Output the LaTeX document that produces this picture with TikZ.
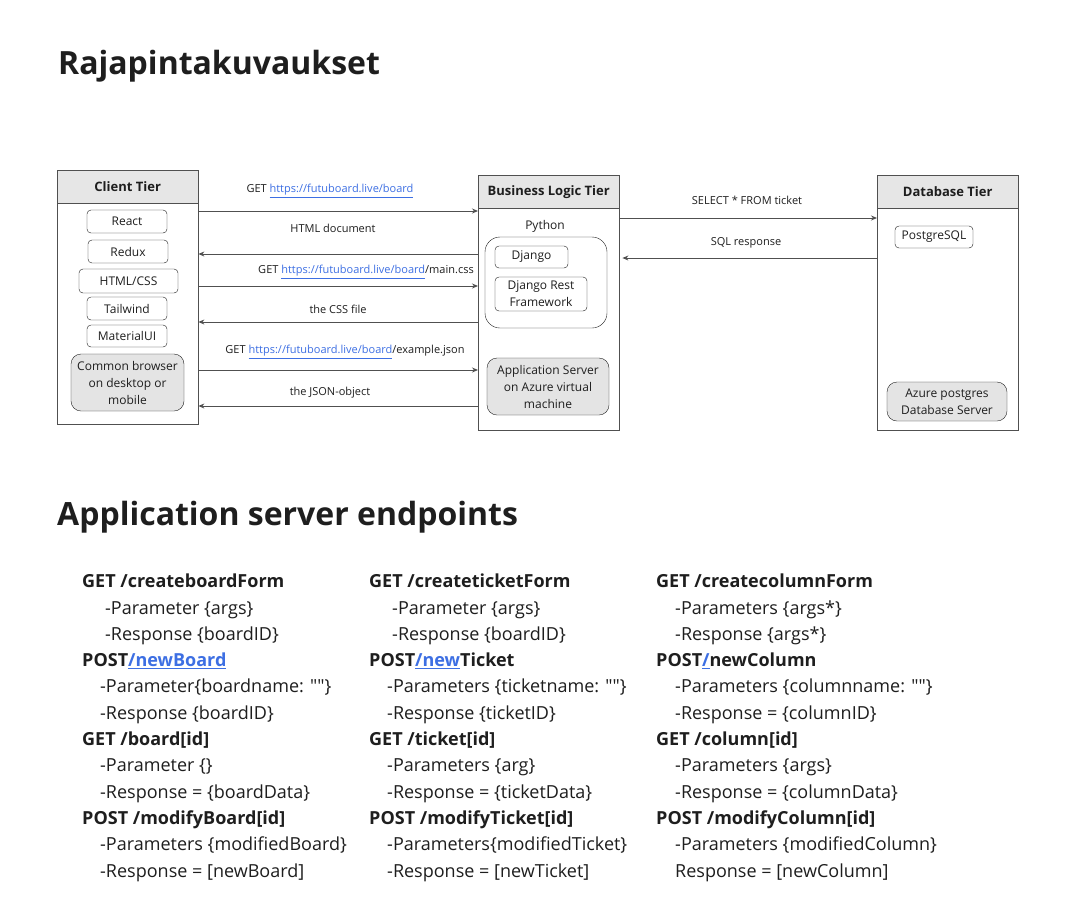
\documentclass[tikz,border=0pt]{standalone}
\usepackage{fontspec}
\setmainfont{Open Sans}[Ligatures=TeXOff]
\usepackage{tikz}
\usetikzlibrary{positioning}
\usetikzlibrary{arrows.meta}
\definecolor{ink}{HTML}{1E1E1E}
\definecolor{edge}{HTML}{505050}
\definecolor{hdrgray}{HTML}{E6E6E6}
\definecolor{boxgray}{HTML}{E4E4E4}
\definecolor{linkblue}{HTML}{3D6FE3}
\newcommand{\lnk}[1]{\textcolor{linkblue}{\underline{#1}}}
\tikzset{% tiers, boxes and calls
        tier/.style={draw=edge, fill=white, minimum width=141pt, inner sep=0pt, anchor=north west},
        tierhead/.style={draw=edge, fill=hdrgray, minimum width=141pt, minimum height=33pt, inner sep=0pt, anchor=north, font=\fontsize{13}{15}\selectfont\bfseries, text=ink},
        tech/.style={draw=ink, fill=white, rounded corners=4pt, inner sep=0pt, align=center, font=\fontsize{12}{17}\selectfont, text=ink},
        host/.style={draw=ink, fill=boxgray, rounded corners=10pt, inner sep=0pt, align=center, font=\fontsize{12}{17}\selectfont, text=ink},
        msg/.style={inner sep=0pt, font=\fontsize{11}{13}\selectfont, text=ink},
        call/.style={draw=edge, line width=0.9pt, -{Stealth[length=6pt,width=5pt]}},
        heading/.style={anchor=base west, inner sep=0pt, font=\fontsize{32}{38}\selectfont\bfseries, text=ink},
        ep/.style={anchor=base west, inner sep=0pt, align=left, font=\fontsize{18}{26.3}\selectfont, text=ink}
        }

\begin{document}
\begin{tikzpicture}[x=1pt,y=-1pt]
\useasboundingbox[fill=white] (0,0) rectangle (1073,922);

\node[heading] (title) at (58,74) {Rajapintakuvaukset};

% client tier
\node[tier, minimum height=254pt] (client) at (57,170) {};
\node[tierhead] (clienthd) at (client.north) {Client Tier};
\node[tech, minimum width=80pt, minimum height=23pt] (react) at (127,221.5) {React};
\node[tech, minimum width=80pt, minimum height=23pt] (redux) at (128,251.5) {Redux};
\node[tech, minimum width=99pt, minimum height=24pt] (htmlcss) at (128.5,281) {HTML/CSS};
\node[tech, minimum width=80pt, minimum height=23pt] (tailwind) at (127,308.5) {Tailwind};
\node[tech, minimum width=80pt, minimum height=22pt] (mui) at (127,336) {MaterialUI};
\node[host, minimum width=113pt, minimum height=57pt] (browser) at (127.5,382.5) {Common browser\\on desktop or\\mobile};

% business logic tier
\node[tier, minimum height=255pt] (blt) at (478,175) {};
\node[tierhead] (blthd) at (blt.north) {Business Logic Tier};
\node[msg, font=\fontsize{12}{17}\selectfont] (python) at (545,226) {Python};
\node[draw=ink, rounded corners=15pt, minimum width=122pt, minimum height=91pt] (pybox) at (546,282.5) {};
\node[tech, minimum width=73pt, minimum height=22pt] (django) at (531.5,257) {Django};
\node[tech, minimum width=92pt, minimum height=34pt] (drf) at (541,294) {Django Rest\\Framework};
\node[host, minimum width=122pt, minimum height=57pt] (appsrv) at (548,386.5) {Application Server\\on Azure virtual\\machine};

% database tier
\node[tier, minimum height=255pt] (db) at (877,175) {};
\node[tierhead] (dbhd) at (db.north) {Database Tier};
\node[tech, minimum width=78pt, minimum height=22pt] (pg) at (934,237) {PostgreSQL};
\node[host, minimum width=120pt, minimum height=39pt] (azure) at (947,401.5) {Azure postgres\\Database Server};

% calls between the tiers
\draw[call] (client.east |- 0,211) -- (blt.west |- 0,211);
\node[msg] (req1) at (330,191) {GET \lnk{https://futuboard.live/board}};
\draw[call] (blt.west |- 0,254) -- (client.east |- 0,254);
\node[msg] (res1) at (333,228) {HTML document};
\draw[call] (client.east |- 0,286) -- (blt.west |- 0,286);
\node[msg] (req2) at (366,272) {GET \lnk{https://futuboard.live/board}/main.css};
\draw[call] (blt.west |- 0,322) -- (client.east |- 0,322);
\node[msg] (res2) at (338,309) {the CSS file};
\draw[call] (client.east |- 0,370) -- (blt.west |- 0,370);
\node[msg] (req3) at (345,352) {GET \lnk{https://futuboard.live/board}/example.json};
\draw[call] (blt.west |- 0,406) -- (client.east |- 0,406);
\node[msg] (res3) at (330,393) {the JSON-object};

\draw[call] (blt.east |- 0,218) -- (db.west |- 0,218);
\node[msg] (sql1) at (747,200) {SELECT * FROM ticket};
\draw[call, shorten >=3pt] (db.west |- 0,258) -- (blt.east |- 0,258);
\node[msg] (sql2) at (746,243) {SQL response};

\node[heading] (eptitle) at (57,525) {Application server endpoints};

% endpoints (base is the last line)
\node[ep] (boards) at (82,877) {\textbf{GET /createboardForm}\\
\hspace*{23pt}-Parameter \{args\}\\
\hspace*{23pt}-Response \{boardID\}\\
\textbf{POST\lnk{/newBoard}}\\
\hspace*{18pt}-Parameter\{boardname: ""\}\\
\hspace*{18pt}-Response \{boardID\}\\
\textbf{GET /board[id]}\\
\hspace*{18pt}-Parameter \{\}\\
\hspace*{18pt}-Response = \{boardData\}\\
\textbf{POST /modifyBoard[id]}\\
\hspace*{18pt}-Parameters \{modifiedBoard\}\\
\hspace*{18pt}-Response = [newBoard]};

\node[ep] (tickets) at (369,877) {\textbf{GET /createticketForm}\\
\hspace*{23pt}-Parameter \{args\}\\
\hspace*{23pt}-Response \{boardID\}\\
\textbf{POST\lnk{/new}Ticket}\\
\hspace*{18pt}-Parameters \{ticketname: ""\}\\
\hspace*{18pt}-Response \{ticketID\}\\
\textbf{GET /ticket[id]}\\
\hspace*{18pt}-Parameters \{arg\}\\
\hspace*{18pt}-Response = \{ticketData\}\\
\textbf{POST /modifyTicket[id]}\\
\hspace*{18pt}-Parameters\{modifiedTicket\}\\
\hspace*{18pt}-Response = [newTicket]};

\node[ep] (columns) at (656,877) {\textbf{GET /createcolumnForm}\\
\hspace*{19pt}-Parameters \{args*\}\\
\hspace*{19pt}-Response \{args*\}\\
\textbf{POST\lnk{/}newColumn}\\
\hspace*{19pt}-Parameters \{columnname: ""\}\\
\hspace*{19pt}-Response = \{columnID\}\\
\textbf{GET /column[id]}\\
\hspace*{19pt}-Parameters \{args\}\\
\hspace*{19pt}-Response = \{columnData\}\\
\textbf{POST /modifyColumn[id]}\\
\hspace*{19pt}-Parameters \{modifiedColumn\}\\
\hspace*{19pt}Response = [newColumn]};
\end{tikzpicture}
\end{document}
